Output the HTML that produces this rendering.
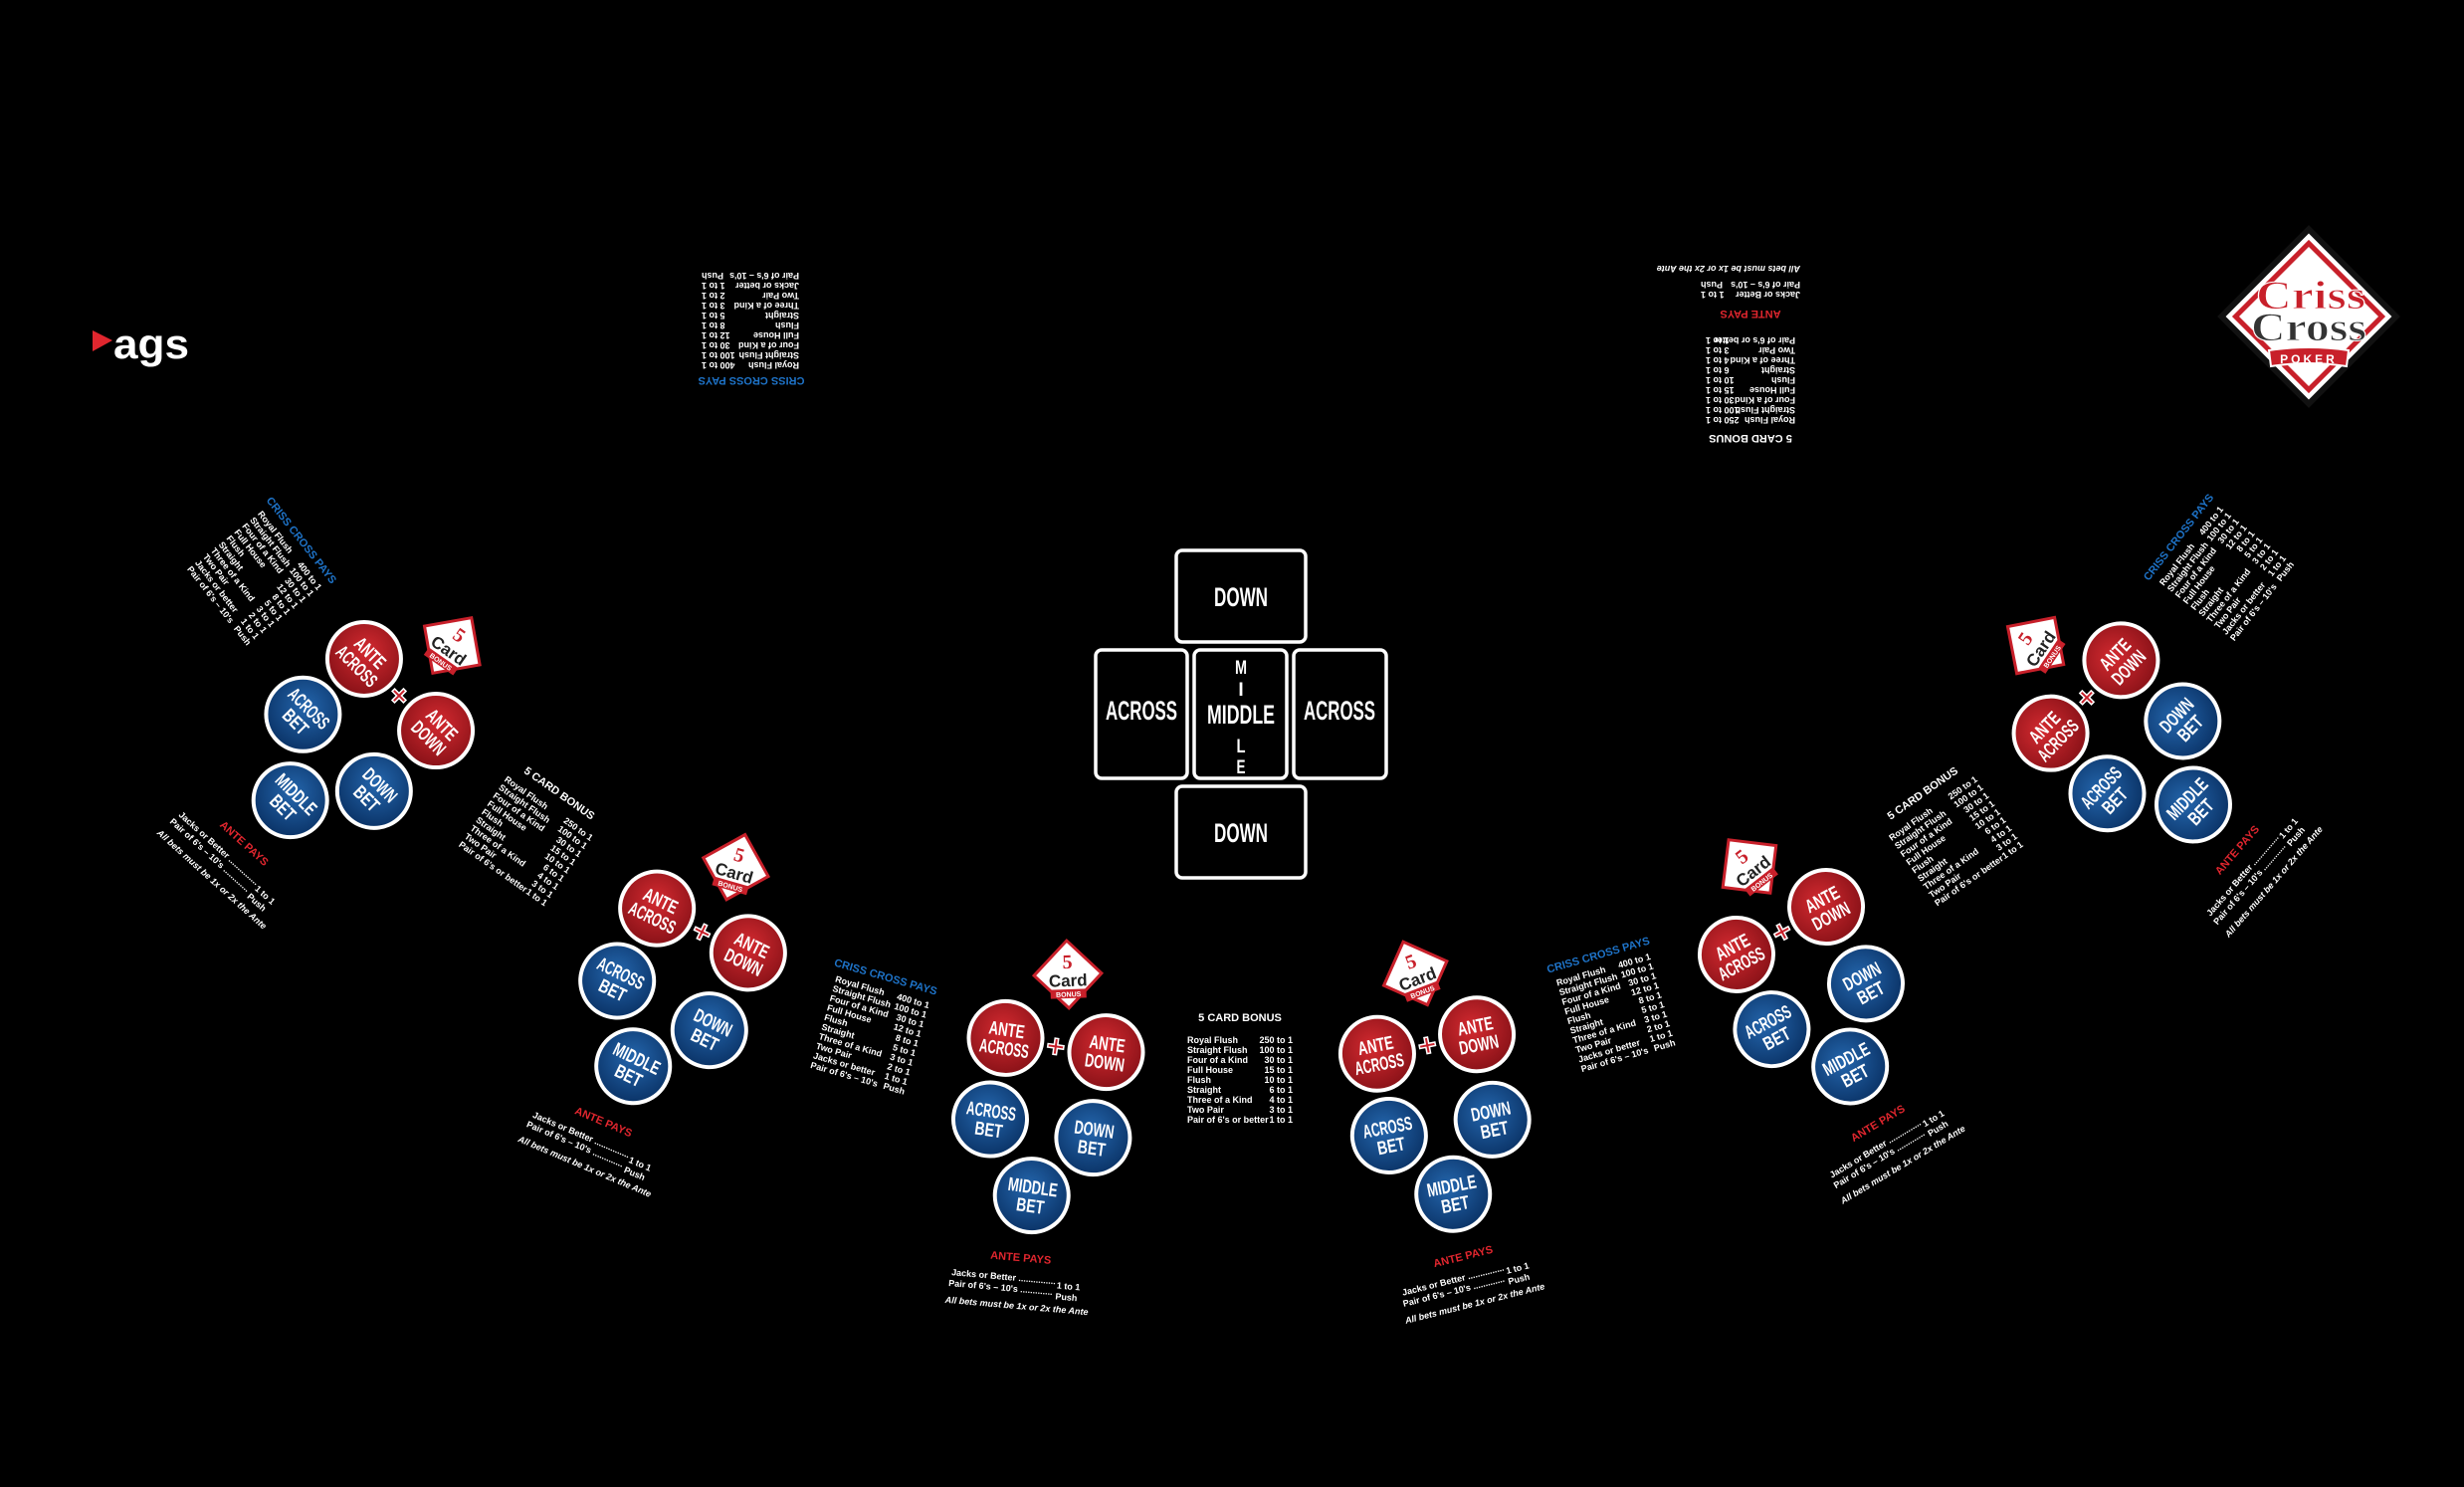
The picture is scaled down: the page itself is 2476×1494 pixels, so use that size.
<!DOCTYPE html>
<html><head><meta charset="utf-8"><style>
html,body{margin:0;padding:0;background:#000;}
svg{display:block;}
.t{font-family:"Liberation Sans",Arial,sans-serif;font-weight:bold;fill:#fff;font-size:9px;}
.ti{font-family:"Liberation Sans",Arial,sans-serif;font-weight:bold;font-size:11px;}
.c{font-family:"Liberation Sans",sans-serif;font-weight:bold;fill:#fff;font-size:19px;text-anchor:middle;}
.k{font-family:"Liberation Sans",sans-serif;font-weight:bold;fill:#fff;text-anchor:middle;}
.e{text-anchor:end;}
.m{text-anchor:middle;}
</style></head><body>
<svg width="2476" height="1494" viewBox="0 0 2476 1494" xmlns="http://www.w3.org/2000/svg">
<defs>
<radialGradient id="rd" cx="45%" cy="40%" r="60%"><stop offset="0" stop-color="#d42a30"/><stop offset="1" stop-color="#8a1218"/></radialGradient>
<radialGradient id="bl" cx="45%" cy="40%" r="60%"><stop offset="0" stop-color="#2466ad"/><stop offset="1" stop-color="#0b3468"/></radialGradient>
</defs>
<rect width="2476" height="1494" fill="#000"/>

<!-- ags logo -->
<polygon points="93,332 113,342 93,353" fill="#e0262e"/>
<text x="114" y="360" textLength="76" lengthAdjust="spacingAndGlyphs" style="font-family:'Liberation Sans',sans-serif;font-weight:bold;font-size:42px;fill:#fff">ags</text>

<!-- Criss Cross logo -->
<g transform="translate(2320,318)">
<rect x="-62" y="-62" width="124" height="124" transform="rotate(45)" fill="#fff" stroke="#111" stroke-width="6"/>
<rect x="-52" y="-52" width="104" height="104" transform="rotate(45)" fill="none" stroke="#c8202a" stroke-width="5"/>
<text x="2" y="-8" text-anchor="middle" textLength="110" lengthAdjust="spacingAndGlyphs" style="font-family:'Liberation Serif',serif;font-weight:bold;font-size:40px;fill:#c8202a;stroke:#fff;stroke-width:1">Criss</text>
<text x="0" y="24" text-anchor="middle" textLength="116" lengthAdjust="spacingAndGlyphs" style="font-family:'Liberation Serif',serif;font-weight:bold;font-size:40px;fill:#333;stroke:#fff;stroke-width:1">Cross</text>
<path d="M-40,34 Q0,28 40,34 L38,50 Q0,44 -38,50 Z" fill="#c8202a" stroke="#fff" stroke-width="2"/>
<text x="0" y="47" text-anchor="middle" style="font-family:'Liberation Sans',sans-serif;font-weight:bold;font-size:12px;fill:#fff;letter-spacing:3px">POKER</text>
</g>

<!-- Center cards -->
<g fill="#000" stroke="#fff" stroke-width="3.5">
<rect x="1182" y="553" width="130" height="92" rx="6"/>
<rect x="1101" y="653" width="92" height="129" rx="6"/>
<rect x="1200" y="653" width="93" height="129" rx="6"/>
<rect x="1300" y="653" width="93" height="129" rx="6"/>
<rect x="1182" y="790" width="130" height="92" rx="6"/>
</g>
<text class="k" x="1247" y="609" textLength="54" lengthAdjust="spacingAndGlyphs" style="font-size:27px">DOWN</text>
<text class="k" x="1247" y="846" textLength="54" lengthAdjust="spacingAndGlyphs" style="font-size:27px">DOWN</text>
<text class="k" x="1147" y="723" textLength="72" lengthAdjust="spacingAndGlyphs" style="font-size:27px">ACROSS</text>
<text class="k" x="1346" y="723" textLength="72" lengthAdjust="spacingAndGlyphs" style="font-size:27px">ACROSS</text>
<text class="k" x="1247" y="727" textLength="68" lengthAdjust="spacingAndGlyphs" style="font-size:27px">MIDDLE</text>
<text class="k" x="1247" y="677" textLength="12" lengthAdjust="spacingAndGlyphs" style="font-size:19px">M</text>
<text class="k" x="1247" y="699" style="font-size:19px">I</text>
<text class="k" x="1247" y="756" textLength="9" lengthAdjust="spacingAndGlyphs" style="font-size:19px">L</text>
<text class="k" x="1247" y="777" textLength="9" lengthAdjust="spacingAndGlyphs" style="font-size:19px">E</text>

<!-- Stations -->
<!-- S1 -->
<g transform="translate(402,698) rotate(45)">
<g transform="translate(2,-72) rotate(-10)"><rect x="-24" y="-24" width="48" height="48" transform="rotate(45)" fill="#fff" stroke="#c8202a" stroke-width="3"/><text x="0" y="-6" class="m" style="font-family:'Liberation Serif',serif;font-weight:bold;font-size:20px;fill:#c8202a">5</text><text x="0" y="12" class="m" style="font-family:'Liberation Sans',sans-serif;font-weight:bold;font-size:17px;fill:#222">Card</text><rect x="-18" y="15" width="36" height="9" fill="#c8202a"/><text x="0" y="22.5" class="m" style="font-family:'Liberation Sans',sans-serif;font-weight:bold;font-size:7px;fill:#fff">BONUS</text></g>
<circle cx="-51" cy="0" r="37" fill="url(#rd)" stroke="#fff" stroke-width="4"/><circle cx="51" cy="0" r="37" fill="url(#rd)" stroke="#fff" stroke-width="4"/>
<circle cx="-55" cy="83" r="37" fill="url(#bl)" stroke="#fff" stroke-width="4"/><circle cx="50" cy="87" r="37" fill="url(#bl)" stroke="#fff" stroke-width="4"/><circle cx="-3" cy="153" r="37" fill="url(#bl)" stroke="#fff" stroke-width="4"/>
<text x="0" y="12" class="m" style="font-family:'Liberation Sans',sans-serif;font-weight:bold;font-size:32px;fill:#c8202a;stroke:#fff;stroke-width:1.5">+</text>
<text class="c" x="-51" y="-2" textLength="36" lengthAdjust="spacingAndGlyphs">ANTE</text><text class="c" x="-51" y="17" textLength="50" lengthAdjust="spacingAndGlyphs">ACROSS</text>
<text class="c" x="51" y="-2" textLength="36" lengthAdjust="spacingAndGlyphs">ANTE</text><text class="c" x="51" y="17" textLength="40" lengthAdjust="spacingAndGlyphs">DOWN</text>
<text class="c" x="-55" y="81" textLength="50" lengthAdjust="spacingAndGlyphs">ACROSS</text><text class="c" x="-55" y="100" textLength="28" lengthAdjust="spacingAndGlyphs">BET</text>
<text class="c" x="50" y="85" textLength="40" lengthAdjust="spacingAndGlyphs">DOWN</text><text class="c" x="50" y="104" textLength="28" lengthAdjust="spacingAndGlyphs">BET</text>
<text class="c" x="-3" y="151" textLength="50" lengthAdjust="spacingAndGlyphs">MIDDLE</text><text class="c" x="-3" y="170" textLength="28" lengthAdjust="spacingAndGlyphs">BET</text>
<g transform="translate(-5,220) rotate(-3)"><text class="ti m" style="fill:#e0262e">ANTE PAYS</text><text class="t" x="-68" y="20">Jacks or Better ...............</text><text class="t e" x="62" y="24">1 to 1</text><text class="t" x="-70" y="31">Pair of 6's – 10's .............</text><text class="t e" x="60" y="35">Push</text><text class="t" x="-72" y="48" font-style="italic">All bets must be 1x or 2x the Ante</text></g>
</g>
<!-- S2 -->
<g transform="translate(706,935) rotate(26)">
<g transform="translate(2,-72) rotate(-10)"><rect x="-24" y="-24" width="48" height="48" transform="rotate(45)" fill="#fff" stroke="#c8202a" stroke-width="3"/><text x="0" y="-6" class="m" style="font-family:'Liberation Serif',serif;font-weight:bold;font-size:20px;fill:#c8202a">5</text><text x="0" y="12" class="m" style="font-family:'Liberation Sans',sans-serif;font-weight:bold;font-size:17px;fill:#222">Card</text><rect x="-18" y="15" width="36" height="9" fill="#c8202a"/><text x="0" y="22.5" class="m" style="font-family:'Liberation Sans',sans-serif;font-weight:bold;font-size:7px;fill:#fff">BONUS</text></g>
<circle cx="-51" cy="0" r="37" fill="url(#rd)" stroke="#fff" stroke-width="4"/><circle cx="51" cy="0" r="37" fill="url(#rd)" stroke="#fff" stroke-width="4"/>
<circle cx="-55" cy="83" r="37" fill="url(#bl)" stroke="#fff" stroke-width="4"/><circle cx="50" cy="87" r="37" fill="url(#bl)" stroke="#fff" stroke-width="4"/><circle cx="-3" cy="153" r="37" fill="url(#bl)" stroke="#fff" stroke-width="4"/>
<text x="0" y="12" class="m" style="font-family:'Liberation Sans',sans-serif;font-weight:bold;font-size:32px;fill:#c8202a;stroke:#fff;stroke-width:1.5">+</text>
<text class="c" x="-51" y="-2" textLength="36" lengthAdjust="spacingAndGlyphs">ANTE</text><text class="c" x="-51" y="17" textLength="50" lengthAdjust="spacingAndGlyphs">ACROSS</text>
<text class="c" x="51" y="-2" textLength="36" lengthAdjust="spacingAndGlyphs">ANTE</text><text class="c" x="51" y="17" textLength="40" lengthAdjust="spacingAndGlyphs">DOWN</text>
<text class="c" x="-55" y="81" textLength="50" lengthAdjust="spacingAndGlyphs">ACROSS</text><text class="c" x="-55" y="100" textLength="28" lengthAdjust="spacingAndGlyphs">BET</text>
<text class="c" x="50" y="85" textLength="40" lengthAdjust="spacingAndGlyphs">DOWN</text><text class="c" x="50" y="104" textLength="28" lengthAdjust="spacingAndGlyphs">BET</text>
<text class="c" x="-3" y="151" textLength="50" lengthAdjust="spacingAndGlyphs">MIDDLE</text><text class="c" x="-3" y="170" textLength="28" lengthAdjust="spacingAndGlyphs">BET</text>
<g transform="translate(-5,220) rotate(-3)"><text class="ti m" style="fill:#e0262e">ANTE PAYS</text><text class="t" x="-68" y="20">Jacks or Better ...............</text><text class="t e" x="62" y="24">1 to 1</text><text class="t" x="-70" y="31">Pair of 6's – 10's .............</text><text class="t e" x="60" y="35">Push</text><text class="t" x="-72" y="48" font-style="italic">All bets must be 1x or 2x the Ante</text></g>
</g>
<!-- S3 -->
<g transform="translate(1061,1050) rotate(8)">
<g transform="translate(2,-72) rotate(-10)"><rect x="-24" y="-24" width="48" height="48" transform="rotate(45)" fill="#fff" stroke="#c8202a" stroke-width="3"/><text x="0" y="-6" class="m" style="font-family:'Liberation Serif',serif;font-weight:bold;font-size:20px;fill:#c8202a">5</text><text x="0" y="12" class="m" style="font-family:'Liberation Sans',sans-serif;font-weight:bold;font-size:17px;fill:#222">Card</text><rect x="-18" y="15" width="36" height="9" fill="#c8202a"/><text x="0" y="22.5" class="m" style="font-family:'Liberation Sans',sans-serif;font-weight:bold;font-size:7px;fill:#fff">BONUS</text></g>
<circle cx="-51" cy="0" r="37" fill="url(#rd)" stroke="#fff" stroke-width="4"/><circle cx="51" cy="0" r="37" fill="url(#rd)" stroke="#fff" stroke-width="4"/>
<circle cx="-55" cy="83" r="37" fill="url(#bl)" stroke="#fff" stroke-width="4"/><circle cx="50" cy="87" r="37" fill="url(#bl)" stroke="#fff" stroke-width="4"/><circle cx="-3" cy="153" r="37" fill="url(#bl)" stroke="#fff" stroke-width="4"/>
<text x="0" y="12" class="m" style="font-family:'Liberation Sans',sans-serif;font-weight:bold;font-size:32px;fill:#c8202a;stroke:#fff;stroke-width:1.5">+</text>
<text class="c" x="-51" y="-2" textLength="36" lengthAdjust="spacingAndGlyphs">ANTE</text><text class="c" x="-51" y="17" textLength="50" lengthAdjust="spacingAndGlyphs">ACROSS</text>
<text class="c" x="51" y="-2" textLength="36" lengthAdjust="spacingAndGlyphs">ANTE</text><text class="c" x="51" y="17" textLength="40" lengthAdjust="spacingAndGlyphs">DOWN</text>
<text class="c" x="-55" y="81" textLength="50" lengthAdjust="spacingAndGlyphs">ACROSS</text><text class="c" x="-55" y="100" textLength="28" lengthAdjust="spacingAndGlyphs">BET</text>
<text class="c" x="50" y="85" textLength="40" lengthAdjust="spacingAndGlyphs">DOWN</text><text class="c" x="50" y="104" textLength="28" lengthAdjust="spacingAndGlyphs">BET</text>
<text class="c" x="-3" y="151" textLength="50" lengthAdjust="spacingAndGlyphs">MIDDLE</text><text class="c" x="-3" y="170" textLength="28" lengthAdjust="spacingAndGlyphs">BET</text>
<g transform="translate(-5,220) rotate(-3)"><text class="ti m" style="fill:#e0262e">ANTE PAYS</text><text class="t" x="-68" y="20">Jacks or Better ...............</text><text class="t e" x="62" y="24">1 to 1</text><text class="t" x="-70" y="31">Pair of 6's – 10's .............</text><text class="t e" x="60" y="35">Push</text><text class="t" x="-72" y="48" font-style="italic">All bets must be 1x or 2x the Ante</text></g>
</g>
<!-- S4 -->
<g transform="translate(1434,1049) rotate(-11)">
<g transform="translate(2,-72) rotate(-10)"><rect x="-24" y="-24" width="48" height="48" transform="rotate(45)" fill="#fff" stroke="#c8202a" stroke-width="3"/><text x="0" y="-6" class="m" style="font-family:'Liberation Serif',serif;font-weight:bold;font-size:20px;fill:#c8202a">5</text><text x="0" y="12" class="m" style="font-family:'Liberation Sans',sans-serif;font-weight:bold;font-size:17px;fill:#222">Card</text><rect x="-18" y="15" width="36" height="9" fill="#c8202a"/><text x="0" y="22.5" class="m" style="font-family:'Liberation Sans',sans-serif;font-weight:bold;font-size:7px;fill:#fff">BONUS</text></g>
<circle cx="-51" cy="0" r="37" fill="url(#rd)" stroke="#fff" stroke-width="4"/><circle cx="51" cy="0" r="37" fill="url(#rd)" stroke="#fff" stroke-width="4"/>
<circle cx="-55" cy="83" r="37" fill="url(#bl)" stroke="#fff" stroke-width="4"/><circle cx="50" cy="87" r="37" fill="url(#bl)" stroke="#fff" stroke-width="4"/><circle cx="-3" cy="153" r="37" fill="url(#bl)" stroke="#fff" stroke-width="4"/>
<text x="0" y="12" class="m" style="font-family:'Liberation Sans',sans-serif;font-weight:bold;font-size:32px;fill:#c8202a;stroke:#fff;stroke-width:1.5">+</text>
<text class="c" x="-51" y="-2" textLength="36" lengthAdjust="spacingAndGlyphs">ANTE</text><text class="c" x="-51" y="17" textLength="50" lengthAdjust="spacingAndGlyphs">ACROSS</text>
<text class="c" x="51" y="-2" textLength="36" lengthAdjust="spacingAndGlyphs">ANTE</text><text class="c" x="51" y="17" textLength="40" lengthAdjust="spacingAndGlyphs">DOWN</text>
<text class="c" x="-55" y="81" textLength="50" lengthAdjust="spacingAndGlyphs">ACROSS</text><text class="c" x="-55" y="100" textLength="28" lengthAdjust="spacingAndGlyphs">BET</text>
<text class="c" x="50" y="85" textLength="40" lengthAdjust="spacingAndGlyphs">DOWN</text><text class="c" x="50" y="104" textLength="28" lengthAdjust="spacingAndGlyphs">BET</text>
<text class="c" x="-3" y="151" textLength="50" lengthAdjust="spacingAndGlyphs">MIDDLE</text><text class="c" x="-3" y="170" textLength="28" lengthAdjust="spacingAndGlyphs">BET</text>
<g transform="translate(-5,220) rotate(-3)"><text class="ti m" style="fill:#e0262e">ANTE PAYS</text><text class="t" x="-68" y="20">Jacks or Better ...............</text><text class="t e" x="62" y="24">1 to 1</text><text class="t" x="-70" y="31">Pair of 6's – 10's .............</text><text class="t e" x="60" y="35">Push</text><text class="t" x="-72" y="48" font-style="italic">All bets must be 1x or 2x the Ante</text></g>
</g>
<!-- S5 -->
<g transform="translate(1790,935) rotate(-28)">
<g transform="translate(2,-72) rotate(-10)"><rect x="-24" y="-24" width="48" height="48" transform="rotate(45)" fill="#fff" stroke="#c8202a" stroke-width="3"/><text x="0" y="-6" class="m" style="font-family:'Liberation Serif',serif;font-weight:bold;font-size:20px;fill:#c8202a">5</text><text x="0" y="12" class="m" style="font-family:'Liberation Sans',sans-serif;font-weight:bold;font-size:17px;fill:#222">Card</text><rect x="-18" y="15" width="36" height="9" fill="#c8202a"/><text x="0" y="22.5" class="m" style="font-family:'Liberation Sans',sans-serif;font-weight:bold;font-size:7px;fill:#fff">BONUS</text></g>
<circle cx="-51" cy="0" r="37" fill="url(#rd)" stroke="#fff" stroke-width="4"/><circle cx="51" cy="0" r="37" fill="url(#rd)" stroke="#fff" stroke-width="4"/>
<circle cx="-55" cy="83" r="37" fill="url(#bl)" stroke="#fff" stroke-width="4"/><circle cx="50" cy="87" r="37" fill="url(#bl)" stroke="#fff" stroke-width="4"/><circle cx="-3" cy="153" r="37" fill="url(#bl)" stroke="#fff" stroke-width="4"/>
<text x="0" y="12" class="m" style="font-family:'Liberation Sans',sans-serif;font-weight:bold;font-size:32px;fill:#c8202a;stroke:#fff;stroke-width:1.5">+</text>
<text class="c" x="-51" y="-2" textLength="36" lengthAdjust="spacingAndGlyphs">ANTE</text><text class="c" x="-51" y="17" textLength="50" lengthAdjust="spacingAndGlyphs">ACROSS</text>
<text class="c" x="51" y="-2" textLength="36" lengthAdjust="spacingAndGlyphs">ANTE</text><text class="c" x="51" y="17" textLength="40" lengthAdjust="spacingAndGlyphs">DOWN</text>
<text class="c" x="-55" y="81" textLength="50" lengthAdjust="spacingAndGlyphs">ACROSS</text><text class="c" x="-55" y="100" textLength="28" lengthAdjust="spacingAndGlyphs">BET</text>
<text class="c" x="50" y="85" textLength="40" lengthAdjust="spacingAndGlyphs">DOWN</text><text class="c" x="50" y="104" textLength="28" lengthAdjust="spacingAndGlyphs">BET</text>
<text class="c" x="-3" y="151" textLength="50" lengthAdjust="spacingAndGlyphs">MIDDLE</text><text class="c" x="-3" y="170" textLength="28" lengthAdjust="spacingAndGlyphs">BET</text>
<g transform="translate(-5,220) rotate(-3)"><text class="ti m" style="fill:#e0262e">ANTE PAYS</text><text class="t" x="-68" y="20">Jacks or Better ...............</text><text class="t e" x="62" y="24">1 to 1</text><text class="t" x="-70" y="31">Pair of 6's – 10's .............</text><text class="t e" x="60" y="35">Push</text><text class="t" x="-72" y="48" font-style="italic">All bets must be 1x or 2x the Ante</text></g>
</g>
<!-- S6 -->
<g transform="translate(2096,700) rotate(-46)">
<g transform="translate(2,-72) rotate(-10)"><rect x="-24" y="-24" width="48" height="48" transform="rotate(45)" fill="#fff" stroke="#c8202a" stroke-width="3"/><text x="0" y="-6" class="m" style="font-family:'Liberation Serif',serif;font-weight:bold;font-size:20px;fill:#c8202a">5</text><text x="0" y="12" class="m" style="font-family:'Liberation Sans',sans-serif;font-weight:bold;font-size:17px;fill:#222">Card</text><rect x="-18" y="15" width="36" height="9" fill="#c8202a"/><text x="0" y="22.5" class="m" style="font-family:'Liberation Sans',sans-serif;font-weight:bold;font-size:7px;fill:#fff">BONUS</text></g>
<circle cx="-51" cy="0" r="37" fill="url(#rd)" stroke="#fff" stroke-width="4"/><circle cx="51" cy="0" r="37" fill="url(#rd)" stroke="#fff" stroke-width="4"/>
<circle cx="-55" cy="83" r="37" fill="url(#bl)" stroke="#fff" stroke-width="4"/><circle cx="50" cy="87" r="37" fill="url(#bl)" stroke="#fff" stroke-width="4"/><circle cx="-3" cy="153" r="37" fill="url(#bl)" stroke="#fff" stroke-width="4"/>
<text x="0" y="12" class="m" style="font-family:'Liberation Sans',sans-serif;font-weight:bold;font-size:32px;fill:#c8202a;stroke:#fff;stroke-width:1.5">+</text>
<text class="c" x="-51" y="-2" textLength="36" lengthAdjust="spacingAndGlyphs">ANTE</text><text class="c" x="-51" y="17" textLength="50" lengthAdjust="spacingAndGlyphs">ACROSS</text>
<text class="c" x="51" y="-2" textLength="36" lengthAdjust="spacingAndGlyphs">ANTE</text><text class="c" x="51" y="17" textLength="40" lengthAdjust="spacingAndGlyphs">DOWN</text>
<text class="c" x="-55" y="81" textLength="50" lengthAdjust="spacingAndGlyphs">ACROSS</text><text class="c" x="-55" y="100" textLength="28" lengthAdjust="spacingAndGlyphs">BET</text>
<text class="c" x="50" y="85" textLength="40" lengthAdjust="spacingAndGlyphs">DOWN</text><text class="c" x="50" y="104" textLength="28" lengthAdjust="spacingAndGlyphs">BET</text>
<text class="c" x="-3" y="151" textLength="50" lengthAdjust="spacingAndGlyphs">MIDDLE</text><text class="c" x="-3" y="170" textLength="28" lengthAdjust="spacingAndGlyphs">BET</text>
<g transform="translate(-5,220) rotate(-3)"><text class="ti m" style="fill:#e0262e">ANTE PAYS</text><text class="t" x="-68" y="20">Jacks or Better ...............</text><text class="t e" x="62" y="24">1 to 1</text><text class="t" x="-70" y="31">Pair of 6's – 10's .............</text><text class="t e" x="60" y="35">Push</text><text class="t" x="-72" y="48" font-style="italic">All bets must be 1x or 2x the Ante</text></g>
</g>

<!-- Criss Cross Pays tables -->
<g transform="translate(889,985) rotate(16)">
<text class="ti m" style="fill:#1e73c8">CRISS CROSS PAYS</text>
<text class="t" x="-48" y="15">Royal Flush</text><text class="t e" x="50" y="15">400 to 1</text>
<text class="t" x="-48" y="25">Straight Flush</text><text class="t e" x="50" y="25">100 to 1</text>
<text class="t" x="-48" y="35">Four of a Kind</text><text class="t e" x="50" y="35">30 to 1</text>
<text class="t" x="-48" y="45">Full House</text><text class="t e" x="50" y="45">12 to 1</text>
<text class="t" x="-48" y="55">Flush</text><text class="t e" x="50" y="55">8 to 1</text>
<text class="t" x="-48" y="65">Straight</text><text class="t e" x="50" y="65">5 to 1</text>
<text class="t" x="-48" y="75">Three of a Kind</text><text class="t e" x="50" y="75">3 to 1</text>
<text class="t" x="-48" y="85">Two Pair</text><text class="t e" x="50" y="85">2 to 1</text>
<text class="t" x="-48" y="95">Jacks or better</text><text class="t e" x="50" y="95">1 to 1</text>
<text class="t" x="-48" y="105">Pair of 6's – 10's</text><text class="t e" x="50" y="105">Push</text>
</g>
<g transform="translate(1607,963) rotate(-16)">
<text class="ti m" style="fill:#1e73c8">CRISS CROSS PAYS</text>
<text class="t" x="-48" y="15">Royal Flush</text><text class="t e" x="50" y="15">400 to 1</text>
<text class="t" x="-48" y="25">Straight Flush</text><text class="t e" x="50" y="25">100 to 1</text>
<text class="t" x="-48" y="35">Four of a Kind</text><text class="t e" x="50" y="35">30 to 1</text>
<text class="t" x="-48" y="45">Full House</text><text class="t e" x="50" y="45">12 to 1</text>
<text class="t" x="-48" y="55">Flush</text><text class="t e" x="50" y="55">8 to 1</text>
<text class="t" x="-48" y="65">Straight</text><text class="t e" x="50" y="65">5 to 1</text>
<text class="t" x="-48" y="75">Three of a Kind</text><text class="t e" x="50" y="75">3 to 1</text>
<text class="t" x="-48" y="85">Two Pair</text><text class="t e" x="50" y="85">2 to 1</text>
<text class="t" x="-48" y="95">Jacks or better</text><text class="t e" x="50" y="95">1 to 1</text>
<text class="t" x="-48" y="105">Pair of 6's – 10's</text><text class="t e" x="50" y="105">Push</text>
</g>
<g transform="translate(300,545) rotate(52)">
<text class="ti m" style="fill:#1e73c8">CRISS CROSS PAYS</text>
<text class="t" x="-48" y="15">Royal Flush</text><text class="t e" x="50" y="15">400 to 1</text>
<text class="t" x="-48" y="25">Straight Flush</text><text class="t e" x="50" y="25">100 to 1</text>
<text class="t" x="-48" y="35">Four of a Kind</text><text class="t e" x="50" y="35">30 to 1</text>
<text class="t" x="-48" y="45">Full House</text><text class="t e" x="50" y="45">12 to 1</text>
<text class="t" x="-48" y="55">Flush</text><text class="t e" x="50" y="55">8 to 1</text>
<text class="t" x="-48" y="65">Straight</text><text class="t e" x="50" y="65">5 to 1</text>
<text class="t" x="-48" y="75">Three of a Kind</text><text class="t e" x="50" y="75">3 to 1</text>
<text class="t" x="-48" y="85">Two Pair</text><text class="t e" x="50" y="85">2 to 1</text>
<text class="t" x="-48" y="95">Jacks or better</text><text class="t e" x="50" y="95">1 to 1</text>
<text class="t" x="-48" y="105">Pair of 6's – 10's</text><text class="t e" x="50" y="105">Push</text>
</g>
<g transform="translate(2192,542) rotate(-52)">
<text class="ti m" style="fill:#1e73c8">CRISS CROSS PAYS</text>
<text class="t" x="-48" y="15">Royal Flush</text><text class="t e" x="50" y="15">400 to 1</text>
<text class="t" x="-48" y="25">Straight Flush</text><text class="t e" x="50" y="25">100 to 1</text>
<text class="t" x="-48" y="35">Four of a Kind</text><text class="t e" x="50" y="35">30 to 1</text>
<text class="t" x="-48" y="45">Full House</text><text class="t e" x="50" y="45">12 to 1</text>
<text class="t" x="-48" y="55">Flush</text><text class="t e" x="50" y="55">8 to 1</text>
<text class="t" x="-48" y="65">Straight</text><text class="t e" x="50" y="65">5 to 1</text>
<text class="t" x="-48" y="75">Three of a Kind</text><text class="t e" x="50" y="75">3 to 1</text>
<text class="t" x="-48" y="85">Two Pair</text><text class="t e" x="50" y="85">2 to 1</text>
<text class="t" x="-48" y="95">Jacks or better</text><text class="t e" x="50" y="95">1 to 1</text>
<text class="t" x="-48" y="105">Pair of 6's – 10's</text><text class="t e" x="50" y="105">Push</text>
</g>
<g transform="translate(755,379) rotate(180)">
<text class="ti m" style="fill:#1e73c8">CRISS CROSS PAYS</text>
<text class="t" x="-48" y="15">Royal Flush</text><text class="t e" x="50" y="15">400 to 1</text>
<text class="t" x="-48" y="25">Straight Flush</text><text class="t e" x="50" y="25">100 to 1</text>
<text class="t" x="-48" y="35">Four of a Kind</text><text class="t e" x="50" y="35">30 to 1</text>
<text class="t" x="-48" y="45">Full House</text><text class="t e" x="50" y="45">12 to 1</text>
<text class="t" x="-48" y="55">Flush</text><text class="t e" x="50" y="55">8 to 1</text>
<text class="t" x="-48" y="65">Straight</text><text class="t e" x="50" y="65">5 to 1</text>
<text class="t" x="-48" y="75">Three of a Kind</text><text class="t e" x="50" y="75">3 to 1</text>
<text class="t" x="-48" y="85">Two Pair</text><text class="t e" x="50" y="85">2 to 1</text>
<text class="t" x="-48" y="95">Jacks or better</text><text class="t e" x="50" y="95">1 to 1</text>
<text class="t" x="-48" y="105">Pair of 6's – 10's</text><text class="t e" x="50" y="105">Push</text>
</g>

<!-- 5 Card Bonus tables -->
<g transform="translate(1246,1026)">
<text class="ti m" style="fill:#fff">5 CARD BONUS</text>
<text class="t" x="-53" y="22">Royal Flush</text><text class="t e" x="53" y="22">250 to 1</text>
<text class="t" x="-53" y="32">Straight Flush</text><text class="t e" x="53" y="32">100 to 1</text>
<text class="t" x="-53" y="42">Four of a Kind</text><text class="t e" x="53" y="42">30 to 1</text>
<text class="t" x="-53" y="52">Full House</text><text class="t e" x="53" y="52">15 to 1</text>
<text class="t" x="-53" y="62">Flush</text><text class="t e" x="53" y="62">10 to 1</text>
<text class="t" x="-53" y="72">Straight</text><text class="t e" x="53" y="72">6 to 1</text>
<text class="t" x="-53" y="82">Three of a Kind</text><text class="t e" x="53" y="82">4 to 1</text>
<text class="t" x="-53" y="92">Two Pair</text><text class="t e" x="53" y="92">3 to 1</text>
<text class="t" x="-53" y="102">Pair of 6's or better</text><text class="t e" x="53" y="102">1 to 1</text>
</g>
<g transform="translate(560,800) rotate(35)">
<text class="ti m" style="fill:#fff">5 CARD BONUS</text>
<text class="t" x="-53" y="18">Royal Flush</text><text class="t e" x="53" y="18">250 to 1</text>
<text class="t" x="-53" y="28">Straight Flush</text><text class="t e" x="53" y="28">100 to 1</text>
<text class="t" x="-53" y="38">Four of a Kind</text><text class="t e" x="53" y="38">30 to 1</text>
<text class="t" x="-53" y="48">Full House</text><text class="t e" x="53" y="48">15 to 1</text>
<text class="t" x="-53" y="58">Flush</text><text class="t e" x="53" y="58">10 to 1</text>
<text class="t" x="-53" y="68">Straight</text><text class="t e" x="53" y="68">6 to 1</text>
<text class="t" x="-53" y="78">Three of a Kind</text><text class="t e" x="53" y="78">4 to 1</text>
<text class="t" x="-53" y="88">Two Pair</text><text class="t e" x="53" y="88">3 to 1</text>
<text class="t" x="-53" y="98">Pair of 6's or better</text><text class="t e" x="53" y="98">1 to 1</text>
</g>
<g transform="translate(1934,800) rotate(-35)">
<text class="ti m" style="fill:#fff">5 CARD BONUS</text>
<text class="t" x="-53" y="18">Royal Flush</text><text class="t e" x="53" y="18">250 to 1</text>
<text class="t" x="-53" y="28">Straight Flush</text><text class="t e" x="53" y="28">100 to 1</text>
<text class="t" x="-53" y="38">Four of a Kind</text><text class="t e" x="53" y="38">30 to 1</text>
<text class="t" x="-53" y="48">Full House</text><text class="t e" x="53" y="48">15 to 1</text>
<text class="t" x="-53" y="58">Flush</text><text class="t e" x="53" y="58">10 to 1</text>
<text class="t" x="-53" y="68">Straight</text><text class="t e" x="53" y="68">6 to 1</text>
<text class="t" x="-53" y="78">Three of a Kind</text><text class="t e" x="53" y="78">4 to 1</text>
<text class="t" x="-53" y="88">Two Pair</text><text class="t e" x="53" y="88">3 to 1</text>
<text class="t" x="-53" y="98">Pair of 6's or better</text><text class="t e" x="53" y="98">1 to 1</text>
</g>
<g transform="translate(1759,437) rotate(180)">
<text class="ti m" style="fill:#fff">5 CARD BONUS</text>
<text class="t" x="-45" y="18">Royal Flush</text><text class="t e" x="45" y="18">250 to 1</text>
<text class="t" x="-45" y="28">Straight Flush</text><text class="t e" x="45" y="28">100 to 1</text>
<text class="t" x="-45" y="38">Four of a Kind</text><text class="t e" x="45" y="38">30 to 1</text>
<text class="t" x="-45" y="48">Full House</text><text class="t e" x="45" y="48">15 to 1</text>
<text class="t" x="-45" y="58">Flush</text><text class="t e" x="45" y="58">10 to 1</text>
<text class="t" x="-45" y="68">Straight</text><text class="t e" x="45" y="68">6 to 1</text>
<text class="t" x="-45" y="78">Three of a Kind</text><text class="t e" x="45" y="78">4 to 1</text>
<text class="t" x="-45" y="88">Two Pair</text><text class="t e" x="45" y="88">3 to 1</text>
<text class="t" x="-45" y="98">Pair of 6's or better</text><text class="t e" x="45" y="98">1 to 1</text>
<text class="ti m" y="125" style="fill:#e0262e">ANTE PAYS</text>
<text class="t" x="-50" y="144">Jacks or Better</text><text class="t e" x="50" y="144">1 to 1</text>
<text class="t" x="-50" y="154">Pair of 6's – 10's</text><text class="t e" x="50" y="154">Push</text>
<text class="t" x="-50" y="170" font-style="italic">All bets must be 1x or 2x the Ante</text>
</g>
</svg>
</body></html>
